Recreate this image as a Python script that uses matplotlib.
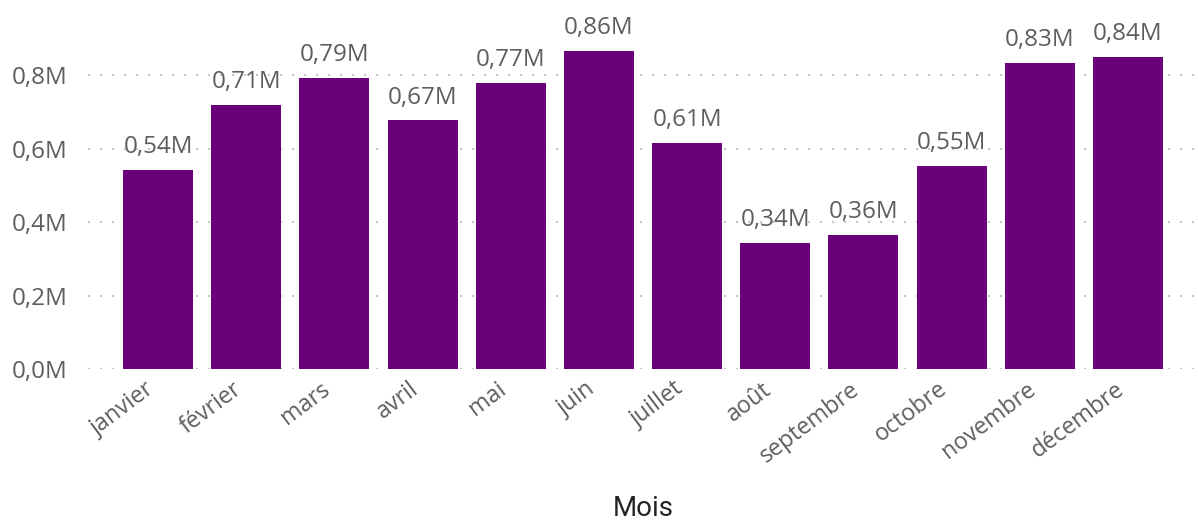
import math
import matplotlib
matplotlib.use('Agg')
import matplotlib.pyplot as plt

mois = ['janvier', 'février', 'mars', 'avril', 'mai', 'juin',
        'juillet', 'août', 'septembre', 'octobre', 'novembre', 'décembre']
valeurs = [0.542, 0.718, 0.792, 0.677, 0.778, 0.865,
           0.615, 0.343, 0.365, 0.552, 0.833, 0.849]
yticks = [0.0, 0.2, 0.4, 0.6, 0.8]

plt.rcParams['font.family'] = ['Open Sans', 'DejaVu Sans']

fig = plt.figure(figsize=(11.98, 5.2), dpi=100)
ax = fig.add_axes([88 / 1198, 1 - 369 / 520, 1 - 88 / 1198, 369 / 520])

x = list(range(len(mois)))
ax.bar(x, valeurs, width=0.794, color='#6B007B', zorder=2)

for i, v in zip(x, valeurs):
    lab = '{:.2f}M'.format(math.floor(v * 100) / 100).replace('.', ',')
    ax.annotate(lab, (i, v), xytext=(0, 12), textcoords='offset points',
                ha='center', va='baseline', fontsize=17.5, color='#605E5C')

# month labels, rotated, ending a little left of each bar centre
for i, m in zip(x, mois):
    ax.annotate(m, (i, 0), xycoords=('data', 'axes fraction'),
                xytext=(-10, -6), textcoords='offset points',
                ha='right', va='top', rotation=37, rotation_mode='anchor',
                fontsize=16.8, color='#605E5C')

ax.set_xlim(-0.794, 11.794)
ax.set_ylim(0, 369 / 367.5)
ax.set_yticks(yticks)
ax.set_yticklabels(['{:.1f}M'.format(t).replace('.', ',') for t in yticks],
                   fontsize=17.5, color='#605E5C')
ax.set_xticks(x)
ax.set_xticklabels([])

ax.tick_params(axis='both', length=0)
ax.tick_params(axis='y', pad=15)
for s in ax.spines.values():
    s.set_visible(False)

ax.yaxis.grid(True, color='#C8C6C4', linewidth=1.5, linestyle=(0, (1, 4.76)), zorder=0)
ax.set_axisbelow(True)

fig.text(0.537, 4 / 520, 'Mois', ha='center', va='baseline', fontsize=20,
         color='#252423', family=['Roboto', 'DejaVu Sans'])

fig.savefig('out.png', dpi=100)
